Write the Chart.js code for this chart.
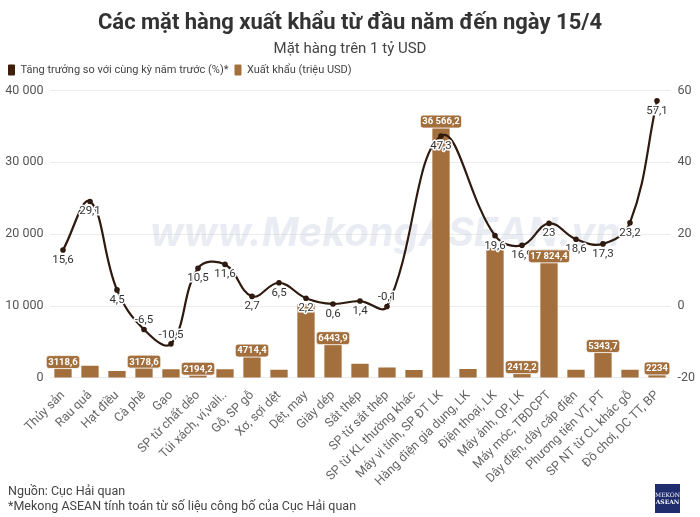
<!DOCTYPE html>
<html lang="vi">
<head>
<meta charset="utf-8">
<title>Các mặt hàng xuất khẩu từ đầu năm đến ngày 15/4</title>
<script src="https://cdn.jsdelivr.net/npm/chart.js@4/dist/chart.umd.min.js"></script>
<style>
  html, body { margin: 0; padding: 0; background: #fff; }
  #wrap { position: relative; width: 700px; height: 517px; }
  #exportChart { position: absolute; left: 0; top: 0; }
  .note { position: absolute; left: 8px; font: 12.5px 'Liberation Sans Narrow', Roboto, sans-serif; color: #444; }
  #logo { position: absolute; left: 655px; top: 484px; width: 25px; height: 29px; background: #1f2d6e;
          color: #fff; font: 6px 'DejaVu Serif', serif; text-align: center; line-height: 7px; padding-top: 7px; box-sizing: border-box; }
</style>
</head>
<body>
<div id="wrap">
  <canvas id="exportChart" width="700" height="517"></canvas>
  <div class="note" style="top:483px">Nguồn: Cục Hải quan</div>
  <div class="note" style="top:498px">*Mekong ASEAN tính toán từ số liệu công bố của Cục Hải quan</div>
  <div id="logo">MEKONG<br><b>ASEAN</b></div>
</div>
<script>
// Data
const categories = ['Thủy sản', 'Rau quả', 'Hạt điều', 'Cà phê', 'Gạo', 'SP từ chất dẻo', 'Túi xách, ví,vali..',
  'Gỗ, SP gỗ', 'Xơ, sợi dệt', 'Dệt, may', 'Giày dép', 'Sắt thép', 'SP từ sắt thép', 'SP từ KL thường khác',
  'Máy vi tính, SP ĐT LK', 'Hàng điện gia dụng, LK', 'Điện thoại, LK', 'Máy ảnh, QP, LK', 'Máy móc, TBDCPT',
  'Dây điện, dây cáp điện', 'Phương tiện VT, PT', 'SP NT từ CL khác gỗ', 'Đồ chơi, DC TT, BP'];
const exportValues = [3118.6, 1710, 970, 3178.6, 1200, 2194.2, 1200, 4714.4, 1150, 10300, 6443.9, 1980, 1450,
  1100, 36566.2, 1250, 18100, 2412.2, 17824.4, 1150, 5343.7, 1150, 2234];
const growthValues = [15.6, 29.1, 4.5, -6.5, -10.5, 10.5, 11.6, 2.7, 6.5, 2.2, 0.6, 1.4, -0.1, null, 47.3, null,
  19.6, 16.9, 23, 18.6, 17.3, 23.2, 57.1];
const leftTicks = [0, 10000, 20000, 30000, 40000];
const rightTicks = [-20, 0, 20, 40, 60];

const BAR_COLOR = '#a36f3d';
const LINE_COLOR = '#2e1a0f';
const FONT = "'Liberation Sans Narrow', Roboto, sans-serif";

function fmt(v) {
  let s = (Math.round(v * 10) / 10).toString().replace('.', ',');
  if (Math.abs(v) >= 10000) {
    const parts = s.split(',');
    parts[0] = parts[0].replace(/\B(?=(\d{3})+(?!\d))/g, ' ');
    s = parts.join(',');
  }
  return s;
}

function roundRect(ctx, x, y, w, h, r) {
  ctx.beginPath();
  ctx.moveTo(x + r, y);
  ctx.arcTo(x + w, y, x + w, y + h, r);
  ctx.arcTo(x + w, y + h, x, y + h, r);
  ctx.arcTo(x, y + h, x, y, r);
  ctx.arcTo(x, y, x + w, y, r);
  ctx.closePath();
}

// faint site watermark behind the marks
const watermark = {
  id: 'watermark',
  beforeDatasetsDraw(chart) {
    const ctx = chart.ctx;
    const a = chart.chartArea;
    ctx.save();
    ctx.font = 'italic bold 40px Inter, sans-serif';
    const w = ctx.measureText('www.MekongASEAN.vn').width;
    const size = 40 * 470 / w;
    ctx.font = 'italic bold ' + size + 'px Inter, sans-serif';
    ctx.fillStyle = 'rgba(200, 207, 224, 0.4)';
    ctx.textAlign = 'center';
    ctx.textBaseline = 'middle';
    ctx.fillText('www.MekongASEAN.vn', (a.left + a.right) / 2 + 25, a.top + 144);
    ctx.restore();
  }
};

// value labels: growth under/over the points, exports on top of the bars
const valueLabels = {
  id: 'valueLabels',
  afterDatasetsDraw(chart) {
    const ctx = chart.ctx;
    const lineMeta = chart.getDatasetMeta(0);
    const barMeta = chart.getDatasetMeta(1);
    const lineBoxes = [];
    ctx.save();
    ctx.font = '11.5px ' + FONT;
    ctx.textAlign = 'center';
    ctx.textBaseline = 'middle';
    growthValues.forEach((v, i) => {
      if (v === null) { lineBoxes[i] = null; return; }
      const p = lineMeta.data[i];
      const y = v < 0 ? p.y - 9 : p.y + 10;
      const t = fmt(v);
      const w = ctx.measureText(t).width;
      lineBoxes[i] = { top: y - 7, bottom: y + 7, left: p.x - w / 2, right: p.x + w / 2 };
      ctx.lineWidth = 3;
      ctx.strokeStyle = '#fff';
      ctx.lineJoin = 'round';
      ctx.strokeText(t, p.x, y);
      ctx.fillStyle = '#333';
      ctx.fillText(t, p.x, y);
    });
    ctx.font = 'bold 9.5px ' + FONT;
    exportValues.forEach((v, i) => {
      if (v < 2000) return;
      const b = barMeta.data[i];
      const y = b.y + 6.5;
      const t = fmt(v);
      const w = ctx.measureText(t).width + 4;
      const box = lineBoxes[i];
      if (box && box.bottom > y - 6 && box.top < y + 6) return;
      roundRect(ctx, b.x - w / 2, y - 6.5, w, 13, 3);
      ctx.fillStyle = BAR_COLOR;
      ctx.fill();
      ctx.lineWidth = 1;
      ctx.strokeStyle = 'rgba(255,255,255,0.85)';
      ctx.stroke();
      ctx.fillStyle = '#fff';
      ctx.fillText(t, b.x, y + 0.5);
    });
    ctx.restore();
  }
};

new Chart(document.getElementById('exportChart'), {
  data: {
    labels: categories,
    datasets: [{
      type: 'line',
      label: 'Tăng trưởng so với cùng kỳ năm trước (%)*',
      data: growthValues,
      yAxisID: 'y1',
      borderColor: LINE_COLOR,
      backgroundColor: LINE_COLOR,
      borderWidth: 2.2,
      pointRadius: 2.8,
      pointBorderWidth: 0,
      pointBackgroundColor: LINE_COLOR,
      tension: 0.4,
      spanGaps: true,
      order: 0
    }, {
      type: 'bar',
      label: 'Xuất khẩu (triệu USD)',
      data: exportValues,
      yAxisID: 'y',
      backgroundColor: BAR_COLOR,
      barPercentage: 0.64,
      categoryPercentage: 1,
      order: 1
    }]
  },
  options: {
    responsive: false,
    animation: false,
    layout: { padding: { left: 2, right: 2, top: 7, bottom: 26 } },
    scales: {
      x: {
        grid: { display: false },
        border: { display: false },
        ticks: {
          color: '#666',
          font: { size: 12.5, family: FONT },
          minRotation: 45,
          maxRotation: 45,
          autoSkip: false,
          padding: 2
        }
      },
      y: {
        position: 'left',
        min: 0,
        max: 40000,
        afterBuildTicks: axis => { axis.ticks = leftTicks.map(v => ({ value: v })); },
        afterFit: axis => { axis.width = 47.5; },
        grid: { color: '#ececec', drawTicks: false },
        border: { display: false },
        ticks: {
          color: '#555',
          font: { size: 12.5, family: FONT },
          padding: 6,
          callback: v => String(v).replace(/\B(?=(\d{3})+(?!\d))/g, ' ')
        }
      },
      y1: {
        position: 'right',
        min: -20,
        max: 60,
        afterBuildTicks: axis => { axis.ticks = rightTicks.map(v => ({ value: v })); },
        afterFit: axis => { axis.width = 27.5; },
        grid: { drawOnChartArea: false, drawTicks: false },
        border: { display: false },
        ticks: {
          color: '#555',
          font: { size: 12.5, family: FONT },
          padding: 7
        }
      }
    },
    plugins: {
      title: {
        display: true,
        text: 'Các mặt hàng xuất khẩu từ đầu năm đến ngày 15/4',
        color: '#333',
        font: { size: 22, weight: 'bold', family: FONT },
        padding: { top: 3, bottom: 4 }
      },
      subtitle: {
        display: true,
        text: 'Mặt hàng trên 1 tỷ USD',
        color: '#444',
        font: { size: 15, family: FONT },
        padding: { bottom: 0 }
      },
      legend: {
        align: 'start',
        labels: {
          boxWidth: 7,
          boxHeight: 11,
          useBorderRadius: true,
          borderRadius: 1,
          color: '#444',
          font: { size: 11, family: FONT },
          padding: 6,
          generateLabels(chart) {
            const items = Chart.defaults.plugins.legend.labels.generateLabels(chart);
            const colors = ['#3d1f0c', BAR_COLOR];
            items.forEach((it, i) => {
              it.fillStyle = colors[i];
              it.strokeStyle = colors[i];
              it.lineWidth = 0;
            });
            return items;
          }
        }
      },
      tooltip: { enabled: false }
    }
  },
  plugins: [watermark, valueLabels, {
    id: 'legendGap',
    beforeInit(chart) {
      const fit = chart.legend.fit;
      chart.legend.fit = function () { fit.call(this); this.height += 5; };
    }
  }]
});
</script>
</body>
</html>
